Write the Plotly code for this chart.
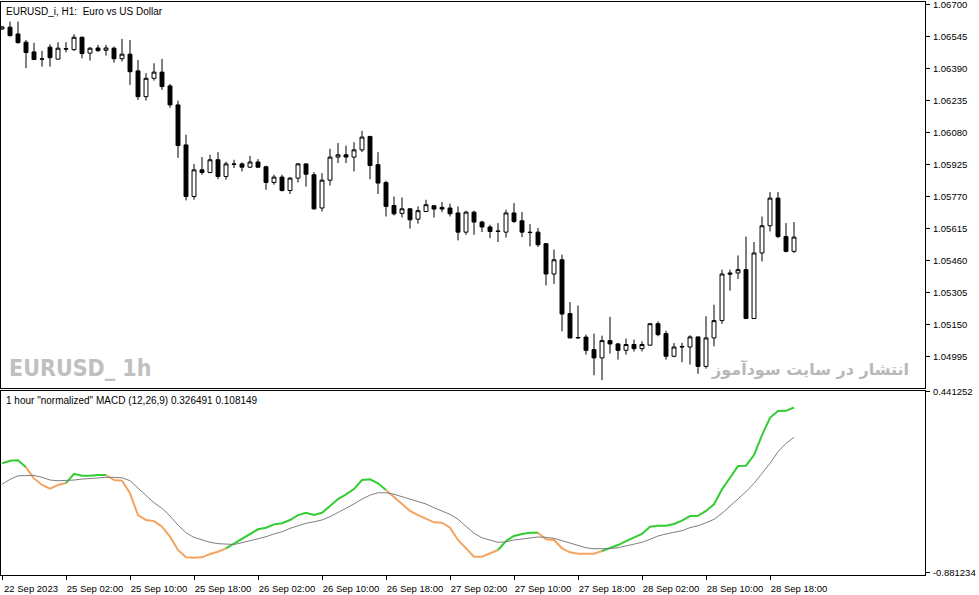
import plotly.graph_objects as go

# EURUSD H1 bars, 22 Sep 2023 18:00 .. 28 Sep 2023 21:00
opens = [1.06582, 1.06591, 1.06558, 1.06518, 1.06471, 1.06437, 1.06494, 1.06436, 1.06484, 1.06482,
         1.06542, 1.06465, 1.06490, 1.06479, 1.06489, 1.06438, 1.06460, 1.06379, 1.06254, 1.06343,
         1.06373, 1.06306, 1.06214, 1.06020, 1.05770, 1.05899, 1.05886, 1.05948, 1.05867, 1.05928,
         1.05928, 1.05912, 1.05937, 1.05914, 1.05838, 1.05864, 1.05799, 1.05859, 1.05928, 1.05875,
         1.05714, 1.05849, 1.05961, 1.05972, 1.05961, 1.05996, 1.06061, 1.05924, 1.05838, 1.05726,
         1.05688, 1.05710, 1.05660, 1.05697, 1.05725, 1.05717, 1.05714, 1.05690, 1.05597, 1.05694,
         1.05646, 1.05622, 1.05600, 1.05597, 1.05690, 1.05652, 1.05597, 1.05597, 1.05541, 1.05394,
         1.05463, 1.05202, 1.05084, 1.05088, 1.05027, 1.04987, 1.05071, 1.05055, 1.05024, 1.05052,
         1.05032, 1.05049, 1.05153, 1.05105, 1.04995, 1.05040, 1.05040, 1.05089, 1.04946, 1.05084,
         1.05168, 1.05399, 1.05399, 1.05415, 1.05178, 1.05496, 1.05628, 1.05762, 1.05576, 1.05504]
highs = [1.06597, 1.06618, 1.06618, 1.06529, 1.06515, 1.06476, 1.06508, 1.06518, 1.06518, 1.06557,
         1.06545, 1.06494, 1.06505, 1.06505, 1.06497, 1.06534, 1.06529, 1.06432, 1.06368, 1.06416,
         1.06437, 1.06316, 1.06234, 1.06069, 1.05928, 1.05961, 1.05972, 1.05985, 1.05939, 1.05948,
         1.05935, 1.05967, 1.05951, 1.05919, 1.05875, 1.05875, 1.05864, 1.05932, 1.05930, 1.05888,
         1.05883, 1.06001, 1.06029, 1.06016, 1.06033, 1.06088, 1.06064, 1.05985, 1.05846, 1.05770,
         1.05765, 1.05714, 1.05722, 1.05754, 1.05727, 1.05743, 1.05735, 1.05722, 1.05701, 1.05701,
         1.05652, 1.05633, 1.05641, 1.05706, 1.05738, 1.05694, 1.05636, 1.05617, 1.05544, 1.05512,
         1.05488, 1.05258, 1.05241, 1.05100, 1.05105, 1.05095, 1.05186, 1.05060, 1.05081, 1.05076,
         1.05068, 1.05155, 1.05164, 1.05119, 1.05059, 1.05060, 1.05097, 1.05090, 1.05189, 1.05245,
         1.05415, 1.05415, 1.05484, 1.05576, 1.05549, 1.05673, 1.05791, 1.05791, 1.05641, 1.05646]
lows = [1.06578, 1.06545, 1.06511, 1.06392, 1.06432, 1.06400, 1.06400, 1.06434, 1.06469, 1.06476,
        1.06440, 1.06429, 1.06472, 1.06453, 1.06419, 1.06424, 1.06311, 1.06238, 1.06235, 1.06332,
        1.06287, 1.06200, 1.05957, 1.05751, 1.05754, 1.05875, 1.05883, 1.05854, 1.05851, 1.05908,
        1.05891, 1.05908, 1.05908, 1.05802, 1.05827, 1.05794, 1.05782, 1.05838, 1.05818, 1.05706,
        1.05697, 1.05823, 1.05932, 1.05932, 1.05891, 1.05985, 1.05854, 1.05782, 1.05673, 1.05678,
        1.05668, 1.05614, 1.05638, 1.05694, 1.05668, 1.05694, 1.05673, 1.05557, 1.05584, 1.05584,
        1.05597, 1.05568, 1.05549, 1.05571, 1.05641, 1.05573, 1.05528, 1.05525, 1.05339, 1.05346,
        1.05116, 1.05082, 1.05079, 1.05003, 1.04903, 1.04879, 1.05008, 1.04979, 1.05003, 1.05018,
        1.05018, 1.05047, 1.05092, 1.04979, 1.04990, 1.04966, 1.04955, 1.04910, 1.04935, 1.05043,
        1.05152, 1.05313, 1.05370, 1.05176, 1.05176, 1.05455, 1.05600, 1.05568, 1.05499, 1.05496]
closes = [1.06592, 1.06550, 1.06516, 1.06468, 1.06434, 1.06436, 1.06443, 1.06489, 1.06487, 1.06542,
          1.06463, 1.06489, 1.06477, 1.06490, 1.06438, 1.06460, 1.06375, 1.06254, 1.06343, 1.06373,
          1.06303, 1.06214, 1.06017, 1.05770, 1.05899, 1.05886, 1.05948, 1.05867, 1.05928, 1.05926,
          1.05912, 1.05937, 1.05912, 1.05838, 1.05864, 1.05799, 1.05859, 1.05928, 1.05878, 1.05710,
          1.05849, 1.05961, 1.05972, 1.05961, 1.05996, 1.06058, 1.05920, 1.05835, 1.05722, 1.05686,
          1.05710, 1.05657, 1.05701, 1.05730, 1.05709, 1.05709, 1.05686, 1.05597, 1.05694, 1.05646,
          1.05622, 1.05600, 1.05602, 1.05690, 1.05649, 1.05597, 1.05595, 1.05536, 1.05394, 1.05463,
          1.05200, 1.05084, 1.05086, 1.05024, 1.04987, 1.05071, 1.05055, 1.05024, 1.05052, 1.05032,
          1.05052, 1.05153, 1.05100, 1.04995, 1.05040, 1.05042, 1.05089, 1.04946, 1.05084, 1.05168,
          1.05394, 1.05394, 1.05415, 1.05178, 1.05496, 1.05628, 1.05762, 1.05576, 1.05504, 1.05573]

# "normalized" MACD (12,26,9): main and signal
macd_main = [-0.082, -0.063, -0.060, -0.111, -0.192, -0.240, -0.267, -0.240, -0.226, -0.158,
             -0.173, -0.173, -0.167, -0.167, -0.204, -0.209, -0.301, -0.460, -0.496, -0.504,
             -0.545, -0.618, -0.715, -0.769, -0.772, -0.769, -0.745, -0.728, -0.703, -0.668,
             -0.630, -0.598, -0.564, -0.552, -0.528, -0.520, -0.496, -0.460, -0.443, -0.460,
             -0.443, -0.394, -0.343, -0.308, -0.270, -0.204, -0.199, -0.228, -0.277, -0.326,
             -0.374, -0.430, -0.460, -0.484, -0.513, -0.516, -0.552, -0.642, -0.703, -0.764,
             -0.764, -0.739, -0.715, -0.650, -0.613, -0.598, -0.589, -0.589, -0.637, -0.642,
             -0.703, -0.732, -0.742, -0.742, -0.742, -0.723, -0.700, -0.679, -0.650, -0.626,
             -0.598, -0.545, -0.538, -0.538, -0.525, -0.501, -0.467, -0.465, -0.430, -0.381,
             -0.272, -0.187, -0.102, -0.099, -0.021, 0.125, 0.251, 0.300, 0.302, 0.326491]
macd_signal = [-0.235, -0.199, -0.173, -0.170, -0.170, -0.184, -0.204, -0.209, -0.209, -0.204,
               -0.197, -0.192, -0.189, -0.184, -0.184, -0.187, -0.209, -0.265, -0.321, -0.370,
               -0.411, -0.467, -0.533, -0.589, -0.623, -0.642, -0.659, -0.669, -0.674, -0.675,
               -0.662, -0.647, -0.637, -0.618, -0.598, -0.582, -0.557, -0.538, -0.520, -0.509,
               -0.496, -0.472, -0.443, -0.411, -0.379, -0.343, -0.314, -0.297, -0.297, -0.308,
               -0.326, -0.343, -0.357, -0.379, -0.406, -0.430, -0.455, -0.491, -0.545, -0.593,
               -0.626, -0.642, -0.659, -0.656, -0.642, -0.635, -0.626, -0.620, -0.623, -0.630,
               -0.647, -0.666, -0.684, -0.699, -0.706, -0.708, -0.705, -0.699, -0.686, -0.674,
               -0.659, -0.637, -0.613, -0.598, -0.586, -0.574, -0.552, -0.538, -0.516, -0.491,
               -0.447, -0.394, -0.338, -0.289, -0.228, -0.155, -0.082, 0.003, 0.064, 0.108149]

time_labels = ["22 Sep 2023", "25 Sep 02:00", "25 Sep 10:00", "25 Sep 18:00", "26 Sep 02:00",
               "26 Sep 10:00", "26 Sep 18:00", "27 Sep 02:00", "27 Sep 10:00", "27 Sep 18:00",
               "28 Sep 02:00", "28 Sep 10:00", "28 Sep 18:00"]
price_ticks = [1.06700, 1.06545, 1.06390, 1.06235, 1.06080, 1.05925, 1.05770,
               1.05615, 1.05460, 1.05305, 1.05150, 1.04995]
macd_ticks = [0.441252, -0.881234]

bars = list(range(len(opens)))
label_pos = bars[::8]

FONT = "Liberation Sans, Arial, sans-serif"
GREEN = "#32CD32"
ORANGE = "#F4A460"

fig = go.Figure()

fig.add_trace(go.Candlestick(
    x=bars, open=opens, high=highs, low=lows, close=closes,
    xaxis="x", yaxis="y", whiskerwidth=0,
    increasing=dict(line=dict(color="black", width=1), fillcolor="white"),
    decreasing=dict(line=dict(color="black", width=1), fillcolor="black"),
    showlegend=False, hoverinfo="skip",
))

# main line: green while above the signal, sandy orange while below
up = [m > s for m, s in zip(macd_main, macd_signal)]
start = 1
while start < len(bars):
    end = start
    while end + 1 < len(bars) and up[end + 1] == up[start]:
        end += 1
    fig.add_trace(go.Scatter(
        x=bars[start - 1:end + 1], y=macd_main[start - 1:end + 1],
        xaxis="x2", yaxis="y2", mode="lines",
        line=dict(color=GREEN if up[start] else ORANGE, width=2),
        showlegend=False, hoverinfo="skip",
    ))
    start = end + 1

fig.add_trace(go.Scatter(
    x=bars, y=macd_signal, xaxis="x2", yaxis="y2", mode="lines",
    line=dict(color="#808080", width=1), showlegend=False, hoverinfo="skip",
))

xr = [-0.125, 115.375]
frame = dict(showline=True, linecolor="black", linewidth=1, mirror=True,
             showgrid=False, zeroline=False, automargin=False,
             ticklabeloverflow="allow")
tick_font = dict(family=FONT, size=9.5)

fig.update_layout(
    width=979, height=595,
    margin=dict(l=1, r=54, t=2, b=20),
    paper_bgcolor="white", plot_bgcolor="white",
    font=dict(family=FONT, size=10, color="black"),
    hovermode=False,
    xaxis=dict(domain=[0, 1], anchor="y", range=xr, showticklabels=False,
               ticks="", rangeslider=dict(visible=False), **frame),
    xaxis2=dict(domain=[0, 1], anchor="y2", range=xr, matches="x",
                tickvals=label_pos, ticktext=time_labels, ticks="outside",
                ticklen=4, tickcolor="black", ticklabelshift=29,
                ticklabelstandoff=1, tickfont=tick_font, **frame),
    yaxis=dict(domain=[0.327, 1], anchor="x", side="right",
               range=[1.04843, 1.06713], tickvals=price_ticks,
               tickformat=".5f", ticks="outside", ticklen=4, tickcolor="black",
               ticklabelstandoff=1, tickfont=tick_font, **frame),
    yaxis2=dict(domain=[0, 0.321], anchor="x2", side="right",
                range=[-0.898, 0.4464], tickvals=macd_ticks,
                ticktext=[f"{v:.6f}" for v in macd_ticks], ticks="outside",
                ticklen=4, tickcolor="black", ticklabelstandoff=1,
                tickfont=tick_font, **frame),
)

fig.add_annotation(xref="paper", yref="paper", x=0.003, y=0.997,
                   xanchor="left", yanchor="top", showarrow=False,
                   text="EURUSD_i, H1:\u00a0 Euro vs US Dollar",
                   font=dict(family=FONT, size=10, color="black"))
fig.add_annotation(xref="paper", yref="paper", x=0.003, y=0.318,
                   xanchor="left", yanchor="top", showarrow=False,
                   text=f'1 hour "normalized" MACD (12,26,9) {macd_main[-1]:.6f} {macd_signal[-1]:.6f}',
                   font=dict(family=FONT, size=10, color="black"))
fig.add_annotation(xref="paper", yref="paper", x=0.006, y=0.361,
                   xanchor="left", yanchor="middle", showarrow=False,
                   text="<b>EURUSD_ 1h</b>",
                   font=dict(family="DejaVu Sans Condensed, sans-serif",
                             size=23, color="#c0c0c0"))
fig.add_annotation(xref="paper", yref="paper", x=0.985, y=0.360,
                   xanchor="right", yanchor="middle", showarrow=False,
                   text="<b>انتشار در سایت سودآموز</b>",
                   font=dict(family="DejaVu Sans, sans-serif", size=16, color="#b8b8b8"))

# the page body has a default 8px margin; drop it so the figure fills the window
fig.write_html("out.html", config={"displayModeBar": False},
               post_script="document.body.style.margin = '0px';")
